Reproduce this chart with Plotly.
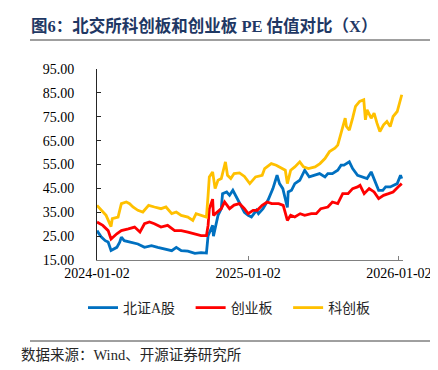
import plotly.graph_objects as go

# ---- data ----
dates_bz = ["2024-01-02","2024-01-12","2024-01-22","2024-01-29","2024-02-05","2024-02-19","2024-02-26","2024-03-01",
            "2024-03-08","2024-03-25","2024-04-10","2024-04-26","2024-05-13","2024-05-28","2024-06-14","2024-07-01",
            "2024-07-12","2024-07-24","2024-08-09","2024-08-26","2024-09-10","2024-09-23","2024-09-27","2024-10-08",
            "2024-10-10","2024-10-14","2024-10-21","2024-10-29","2024-11-01","2024-11-11","2024-11-18","2024-11-26",
            "2024-12-04","2024-12-12","2024-12-24","2025-01-02","2025-01-10","2025-01-22","2025-01-27","2025-02-07",
            "2025-02-19","2025-03-03","2025-03-13","2025-03-19","2025-03-27","2025-04-07","2025-04-09","2025-04-17",
            "2025-04-25","2025-05-07","2025-05-19","2025-05-30","2025-06-12","2025-06-24","2025-07-07","2025-07-14",
            "2025-07-25","2025-08-07","2025-08-15","2025-08-22","2025-09-04","2025-09-12","2025-09-24","2025-10-09",
            "2025-10-17","2025-10-27","2025-11-03","2025-11-14","2025-11-24","2025-12-01","2025-12-12","2025-12-22",
            "2025-12-29","2026-01-06","2026-01-09"]
values_bz = [27.3,24.7,23.1,22.5,19.0,20.3,22.5,24.6,
             23.1,22.5,21.7,20.3,21.0,20.3,19.6,18.9,
             20.3,18.9,18.7,17.8,18.1,17.9,25.2,29.5,
             25.0,28.0,33.7,36.5,42.8,43.5,42.1,44.2,
             41.4,38.5,35.0,33.7,33.0,35.8,34.4,36.5,
             40.0,44.9,50.5,47.0,44.9,37.0,43.5,44.2,
             47.0,48.4,52.6,49.8,50.5,51.2,49.8,51.2,
             51.2,52.6,54.7,54.7,56.1,53.3,50.5,49.8,
             49.1,51.9,49.1,44.2,44.2,45.6,45.6,46.3,
             47.0,50.5,49.1]

dates_cyb = ["2024-01-02","2024-01-16","2024-01-29","2024-02-05","2024-02-19","2024-03-01","2024-03-18","2024-04-02",
             "2024-04-15","2024-04-26","2024-05-08","2024-05-20","2024-06-05","2024-06-21","2024-07-08","2024-07-24",
             "2024-08-09","2024-08-26","2024-09-10","2024-09-23","2024-09-27","2024-09-30","2024-10-08","2024-10-10",
             "2024-10-21","2024-10-29","2024-11-06","2024-11-18","2024-11-29","2024-12-12","2024-12-24","2025-01-02",
             "2025-01-14","2025-01-24","2025-02-05","2025-02-17","2025-02-28","2025-03-17","2025-03-28","2025-04-07",
             "2025-04-15","2025-04-25","2025-05-08","2025-05-19","2025-06-04","2025-06-16","2025-06-27","2025-07-14",
             "2025-07-25","2025-08-07","2025-08-19","2025-09-01","2025-09-12","2025-09-24","2025-09-30","2025-10-10",
             "2025-10-22","2025-11-03","2025-11-14","2025-11-26","2025-12-08","2025-12-19","2025-12-31","2026-01-09"]
values_cyb = [30.9,29.5,27.3,23.8,26.0,27.3,28.0,28.8,
              26.7,30.2,30.9,30.2,28.8,29.5,27.3,27.3,
              26.7,26.0,25.2,25.2,29.5,36.5,40.5,33.7,
              35.1,36.5,39.3,36.5,38.0,38.6,36.5,34.4,
              35.8,35.8,37.9,39.3,38.6,38.6,37.9,31.6,
              33.7,33.0,34.4,33.7,34.4,34.4,36.5,37.2,
              39.3,38.6,42.8,42.8,44.9,45.6,46.3,42.8,
              44.9,43.5,40.7,42.1,42.8,43.5,45.6,47.0]

dates_kcb = ["2024-01-02","2024-01-12","2024-01-24","2024-02-05","2024-02-08","2024-02-22","2024-03-01","2024-03-13",
             "2024-03-21","2024-03-29","2024-04-10","2024-04-22","2024-05-06","2024-05-20","2024-06-05","2024-06-17",
             "2024-07-01","2024-07-12","2024-07-24","2024-08-09","2024-08-21","2024-08-29","2024-09-10","2024-09-23",
             "2024-09-27","2024-09-30","2024-10-08","2024-10-14","2024-10-21","2024-10-29","2024-11-06","2024-11-08",
             "2024-11-13","2024-11-21","2024-11-29","2024-12-12","2024-12-24","2025-01-06","2025-01-20","2025-02-05",
             "2025-02-11","2025-02-27","2025-03-11","2025-03-24","2025-04-02","2025-04-07","2025-04-15","2025-04-25",
             "2025-05-07","2025-05-16","2025-05-28","2025-06-13","2025-06-25","2025-07-07","2025-07-18","2025-07-31",
             "2025-08-07","2025-08-15","2025-08-25","2025-08-28","2025-09-04","2025-09-12","2025-09-19","2025-09-29",
             "2025-10-09","2025-10-13","2025-10-17","2025-10-27","2025-11-03","2025-11-10","2025-11-17","2025-11-26",
             "2025-12-04","2025-12-12","2025-12-19","2025-12-29","2026-01-05","2026-01-09"]
values_kcb = [37.9,35.8,33.7,29.0,32.3,33.0,38.6,39.3,
              38.6,37.2,35.8,35.1,37.9,37.2,36.5,37.2,
              34.4,35.1,33.7,33.0,31.6,34.4,33.7,33.0,
              42.1,49.8,51.9,44.9,48.4,49.1,54.7,56.1,
              50.5,49.1,51.2,51.5,50.0,47.0,49.8,50.5,
              53.3,55.4,54.7,53.3,52.6,47.0,52.6,54.0,
              56.1,54.0,53.3,54.0,55.4,57.5,60.4,61.8,
              63.1,68.1,74.4,70.9,69.4,74.4,79.3,81.4,
              82.1,73.7,77.9,74.4,76.5,72.3,68.8,71.6,
              73.0,70.9,75.1,77.2,81.4,84.2]

series_names = ["北证A股", "创业板", "科创板"]
series_colors = ["#0070C0", "#FF0000", "#FFC000"]
y_ticks = [15, 25, 35, 45, 55, 65, 75, 85, 95]
x_ticks = ["2024-01-02", "2025-01-02", "2026-01-02"]

title_text = "图6：北交所科创板和创业板 PE 估值对比（X）"
source_text = "数据来源：Wind、开源证券研究所"

SERIF_CJK = "Liberation Serif, Noto Sans CJK SC, serif"
PAD = "\u00a0\u00a0\u00a0"

fig = go.Figure()
for d, v, n, c in zip([dates_bz, dates_cyb, dates_kcb], [values_bz, values_cyb, values_kcb],
                      series_names, series_colors):
    fig.add_trace(go.Scatter(x=d, y=v, name=n + PAD, mode="lines",
                             line=dict(color=c, width=2.8)))

W, H = 438, 370
L, R, T, B = 89, 43, 61, 118
pw, ph = W - L - R, H - T - B

def px_x(px):
    return (px - L) / pw

def px_y(py):
    return (H - B - py) / ph

fig.update_layout(
    width=W, height=H,
    margin=dict(l=L, r=R, t=T, b=B),
    paper_bgcolor="white", plot_bgcolor="white",
    font=dict(family=SERIF_CJK, size=14, color="black"),
    showlegend=True,
    legend=dict(orientation="h", x=px_x(75), xanchor="left", y=px_y(300), yanchor="middle",
                font=dict(family=SERIF_CJK, size=14, color="#262626"),
                itemwidth=30, traceorder="normal", bgcolor="rgba(0,0,0,0)"),
    xaxis=dict(type="date", range=["2024-01-02", "2026-01-12"],
               tickvals=x_ticks, ticktext=x_ticks,
               showgrid=False, zeroline=False,
               showline=True, linecolor="#808080", linewidth=1.2,
               ticks="inside", ticklen=4, tickcolor="#808080",
               tickfont=dict(family="Liberation Serif", size=14, color="black")),
    yaxis=dict(range=[15, 95], tickvals=y_ticks, tickformat=".2f",
               showgrid=False, zeroline=False,
               showline=True, linecolor="#262626", linewidth=1,
               ticks="inside", ticklen=4, tickcolor="#262626",
               ticklabelstandoff=19,
               tickfont=dict(family="Liberation Serif", size=14, color="black")),
    shapes=[
        dict(type="line", xref="paper", yref="paper", x0=px_x(22), x1=px_x(432),
             y0=px_y(32), y1=px_y(32), line=dict(color="#404040", width=1)),
        dict(type="line", xref="paper", yref="paper", x0=px_x(22), x1=px_x(432),
             y0=px_y(333), y1=px_y(333), line=dict(color="#404040", width=1)),
    ],
    annotations=[
        dict(text="<b>" + title_text + "</b>", xref="paper", yref="paper",
             x=px_x(21), y=px_y(18), xanchor="left", yanchor="middle", showarrow=False,
             align="left",
             font=dict(family=SERIF_CJK, size=16.5, color="#1F3864")),
        dict(text=source_text, xref="paper", yref="paper",
             x=px_x(11), y=px_y(347), xanchor="left", yanchor="middle", showarrow=False,
             align="left",
             font=dict(family=SERIF_CJK, size=14.5, color="#262626")),
    ],
)

fig.write_html("out.html")
